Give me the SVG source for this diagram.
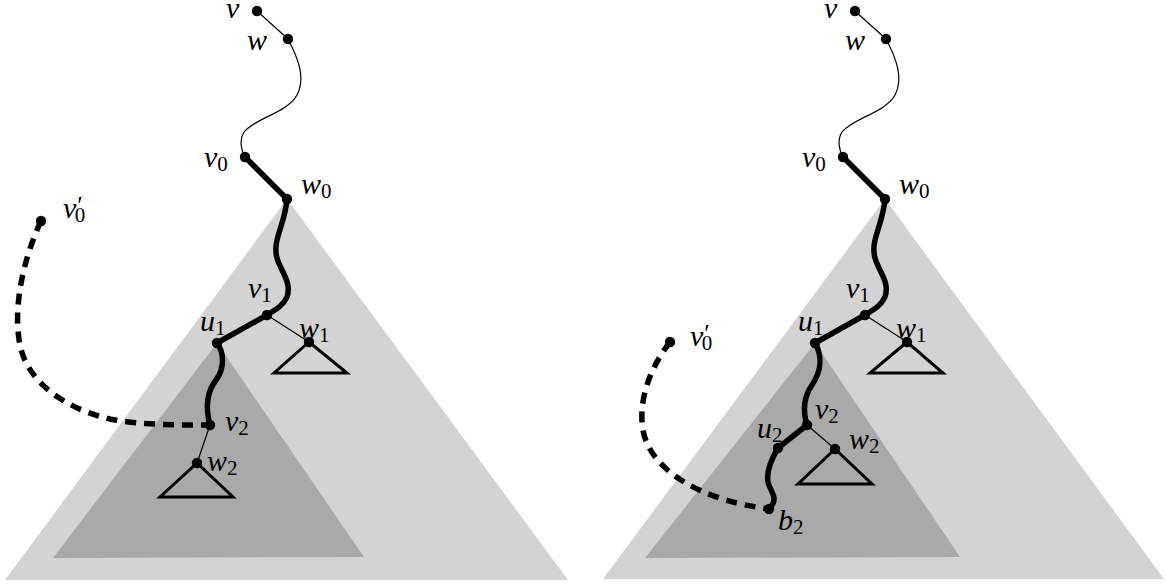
<svg xmlns="http://www.w3.org/2000/svg" width="1166" height="587" viewBox="0 0 1166 587">
<style>
.light{fill:#d3d3d3}
.dark{fill:#a9a9a9}
.thin{stroke:#000;stroke-width:1.2;fill:none}
.thick{stroke:#000;stroke-width:5.5;fill:none;stroke-linecap:round;stroke-linejoin:round}
.dash{stroke:#000;stroke-width:5.5;fill:none;stroke-dasharray:11 8}
.tri{stroke:#000;stroke-width:3;fill:none}
.dot{fill:#000}
.lbl{font-family:"Liberation Serif","Times New Roman",serif;font-style:italic;font-size:30px;fill:#000}
.sub{font-style:normal;font-size:21px}
.pr{font-style:normal;font-size:25px}
</style>
<rect width="1166" height="587" fill="#fff"/>
<g id="regions">
<polygon class="light" points="287,199 5,580 568,580"/>
<polygon class="dark" points="217,343 53,558 364,557"/>
<polygon class="light" points="885,199 603,579 1164,579"/>
<polygon class="dark" points="815,343 645,558 960,557"/>
</g>
<g id="connectors">
<line class="thin" x1="257" y1="11" x2="288" y2="39"/>
<path class="thin" d="M288,39 C298,58 306,78 297,95 C287,113 255,118 244,132 C239,140 241,150 245,157"/>
<line class="thick" x1="245" y1="157" x2="287" y2="199"/>
<path class="thick" d="M287,199 C285,225 272,240 277,258 C281,272 292,282 287,297 C283,306 275,310 267,315"/>
<line class="thick" x1="267" y1="315" x2="217" y2="343"/>
<path class="thick" d="M217,343 C224,352 225,368 216,380 C206,393 206,410 210,425"/>
<line class="thin" x1="267" y1="315" x2="309" y2="342"/>
<line class="thin" x1="210" y1="425" x2="197" y2="463"/>
<path class="dash" d="M41,221 C25,255 12,305 20,345 C28,385 70,410 110,419 C140,425 175,425 210,425"/>

<line class="thin" x1="855" y1="11" x2="886" y2="39"/>
<path class="thin" d="M886,39 C896,58 904,78 895,95 C885,113 853,118 842,132 C837,140 839,150 843,157"/>
<line class="thick" x1="843" y1="157" x2="885" y2="199"/>
<path class="thick" d="M885,199 C883,225 870,240 875,258 C879,272 890,282 885,297 C881,306 873,310 865,315"/>
<line class="thick" x1="865" y1="315" x2="815" y2="343"/>
<path class="thick" d="M815,343 C822,355 822,370 812,385 C803,398 803,412 807,425"/>
<line class="thick" x1="807" y1="425" x2="778" y2="448"/>
<path class="thick" d="M778,448 C772,458 766,470 768,482 C770,492 780,498 769,509"/>
<line class="thin" x1="865" y1="315" x2="907" y2="342"/>
<line class="thin" x1="807" y1="425" x2="835" y2="449"/>
<path class="dash" d="M670,342 C650,368 638,400 643,430 C650,470 700,500 769,509"/>
</g>
<g id="L-v"><circle class="dot" cx="257" cy="11" r="5.2"/><text class="lbl" x="226" y="18">v</text></g>
<g id="L-w"><circle class="dot" cx="288" cy="39" r="5.2"/><text class="lbl" x="247" y="50">w</text></g>
<g id="L-v0"><circle class="dot" cx="245" cy="157" r="5.2"/><text class="lbl" x="204" y="167">v<tspan class="sub" dy="4">0</tspan></text></g>
<g id="L-w0"><circle class="dot" cx="287" cy="199" r="5.2"/><text class="lbl" x="301" y="194">w<tspan class="sub" dy="4">0</tspan></text></g>
<g id="L-v0p"><circle class="dot" cx="41" cy="221" r="5.2"/><text class="lbl" x="63" y="218">v<tspan class="pr" dx="1" dy="-4">′</tspan><tspan class="sub" dx="-8" dy="8">0</tspan></text></g>
<g id="L-v1"><circle class="dot" cx="267" cy="315" r="5.2"/><text class="lbl" x="248" y="298">v<tspan class="sub" dy="4">1</tspan></text></g>
<g id="L-u1"><circle class="dot" cx="217" cy="343" r="5.2"/><text class="lbl" x="200" y="331">u<tspan class="sub" dy="4">1</tspan></text></g>
<g id="L-w1"><polygon class="tri" points="309,342 274,373 347,373"/><circle class="dot" cx="309" cy="342" r="5.2"/><text class="lbl" x="299" y="338">w<tspan class="sub" dy="4">1</tspan></text></g>
<g id="L-v2"><circle class="dot" cx="210" cy="425" r="5.2"/><text class="lbl" x="225" y="431">v<tspan class="sub" dy="4">2</tspan></text></g>
<g id="L-w2"><polygon class="tri" points="197,463 160,497 233,497"/><circle class="dot" cx="197" cy="463" r="5.2"/><text class="lbl" x="207" y="471">w<tspan class="sub" dy="4">2</tspan></text></g>

<g id="R-v"><circle class="dot" cx="855" cy="11" r="5.2"/><text class="lbl" x="824" y="18">v</text></g>
<g id="R-w"><circle class="dot" cx="886" cy="39" r="5.2"/><text class="lbl" x="845" y="50">w</text></g>
<g id="R-v0"><circle class="dot" cx="843" cy="157" r="5.2"/><text class="lbl" x="802" y="167">v<tspan class="sub" dy="4">0</tspan></text></g>
<g id="R-w0"><circle class="dot" cx="885" cy="199" r="5.2"/><text class="lbl" x="899" y="194">w<tspan class="sub" dy="4">0</tspan></text></g>
<g id="R-v0p"><circle class="dot" cx="670" cy="342" r="5.2"/><text class="lbl" x="690" y="346">v<tspan class="pr" dx="1" dy="-4">′</tspan><tspan class="sub" dx="-8" dy="8">0</tspan></text></g>
<g id="R-v1"><circle class="dot" cx="865" cy="315" r="5.2"/><text class="lbl" x="846" y="298">v<tspan class="sub" dy="4">1</tspan></text></g>
<g id="R-u1"><circle class="dot" cx="815" cy="343" r="5.2"/><text class="lbl" x="798" y="331">u<tspan class="sub" dy="4">1</tspan></text></g>
<g id="R-w1"><polygon class="tri" points="907,342 870,373 943,373"/><circle class="dot" cx="907" cy="342" r="5.2"/><text class="lbl" x="896" y="338">w<tspan class="sub" dy="4">1</tspan></text></g>
<g id="R-v2"><circle class="dot" cx="807" cy="425" r="5.2"/><text class="lbl" x="815" y="419">v<tspan class="sub" dy="4">2</tspan></text></g>
<g id="R-u2"><circle class="dot" cx="778" cy="448" r="5.2"/><text class="lbl" x="757" y="438">u<tspan class="sub" dy="4">2</tspan></text></g>
<g id="R-w2"><polygon class="tri" points="835,449 798,484 872,484"/><circle class="dot" cx="835" cy="449" r="5.2"/><text class="lbl" x="849" y="449">w<tspan class="sub" dy="4">2</tspan></text></g>
<g id="R-b2"><circle class="dot" cx="769" cy="509" r="5.2"/><text class="lbl" x="778" y="530">b<tspan class="sub" dy="4">2</tspan></text></g>
</svg>
